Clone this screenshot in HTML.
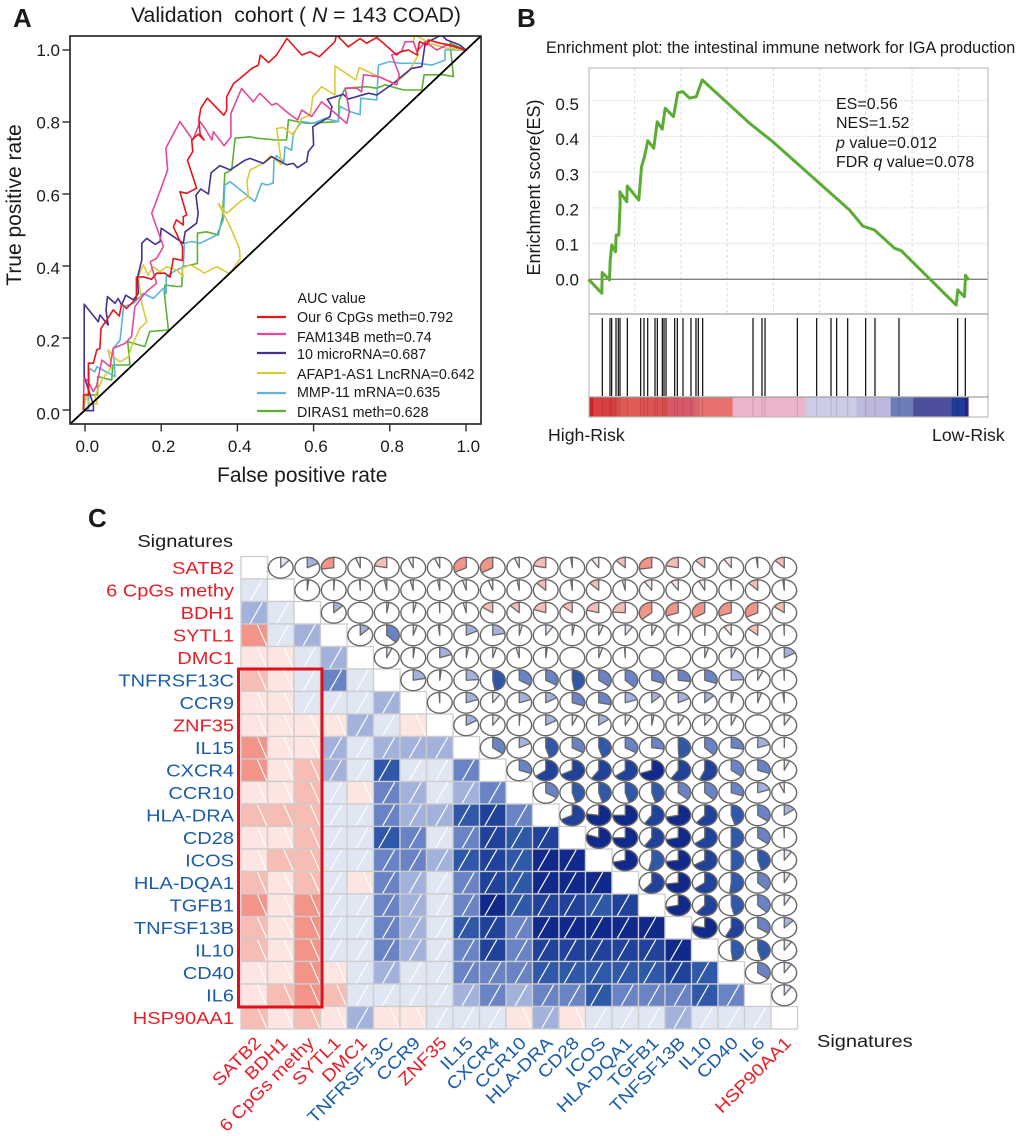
<!DOCTYPE html>
<html lang="en">
<head>
<meta charset="utf-8">
<title>Validation cohort figure</title>
<style>
html,body{margin:0;padding:0;background:#fff;}
svg{display:block;font-family:"Liberation Sans",sans-serif;}
text{fill:#1a1a1a;}
</style>
</head>
<body>
<svg id="fig" xmlns="http://www.w3.org/2000/svg" width="1020" height="1136" viewBox="0 0 1020 1136">
  <defs><clipPath id="rocClip"><rect x="70" y="36" width="411" height="388"/></clipPath></defs>
  <rect x="0" y="0" width="1020" height="1136" fill="#fff"/>

  <text x="13" y="27" font-size="26" font-weight="bold" fill="#000">A</text>
  <text x="131" y="22" font-size="21.2" xml:space="preserve">Validation  cohort ( <tspan font-style="italic">N</tspan> = 143 COAD)</text>
  <g id="rocPlot"></g>
  <text x="217" y="482" font-size="21">False positive rate</text>
  <text transform="translate(21,205) rotate(-90)" text-anchor="middle" font-size="21">True positive rate</text>
  <g id="rocLegend"></g>

  <text x="517" y="27" font-size="26" font-weight="bold" fill="#000">B</text>
  <text x="546" y="53" font-size="16.15">Enrichment plot: the intestinal immune network for IGA production</text>
  <g id="gseaPlot"></g>
  <text transform="translate(540,187.5) rotate(-90)" text-anchor="middle" font-size="18">Enrichment score(ES)</text>
  <text x="836" y="109" font-size="16">ES=0.56</text>
  <text x="836" y="128" font-size="16">NES=1.52</text>
  <text x="836" y="148" font-size="16"><tspan font-style="italic">p</tspan> value=0.012</text>
  <text x="836" y="167" font-size="16">FDR <tspan font-style="italic">q</tspan> value=0.078</text>
  <text x="548" y="441" font-size="17.7">High-Risk</text>
  <text x="932" y="441" font-size="17.7">Low-Risk</text>

  <text x="88" y="527" font-size="26" font-weight="bold" fill="#000">C</text>
  <text transform="translate(233,547) scale(1.15,1)" text-anchor="end" font-size="17.4">Signatures</text>
  <text transform="translate(817,1047) scale(1.15,1)" font-size="17.4">Signatures</text>
  <g id="corrPlot"></g>
  <rect x="238.5" y="669" width="83.5" height="338" fill="none" stroke="#e10f1a" stroke-width="3"/>
</svg>

<script>
/* ===== Panel A: ROC data, [false positive rate, true positive rate] ===== */
const legendLabels = ["Our 6 CpGs meth=0.792","FAM134B meth=0.74","10 microRNA=0.687","AFAP1-AS1 LncRNA=0.642","MMP-11 mRNA=0.635","DIRAS1 meth=0.628"];
const rocTicks = [0,0.2,0.4,0.6,0.8,1];
const rocTickLabels = ["0.0","0.2","0.4","0.6","0.8","1.0"];
const rocCpGs = [[-.004,0],[-.003,.042],[.009,.042],[.009,.13],[.022,.13],[.031,.167],[.039,.171],[.042,.227],[.057,.25],[.074,.278],[.09,.261],[.096,.294],[.109,.282],[.135,.31],[.135,.369],[.153,.37],[.175,.363],[.188,.38],[.21,.38],[.223,.369],[.232,.421],[.256,.415],[.256,.454],[.232,.509],[.24,.528],[.258,.514],[.258,.537],[.267,.542],[.249,.606],[.267,.602],[.293,.616],[.269,.694],[.283,.718],[.28,.75],[.297,.766],[.312,.75],[.302,.766],[.299,.806],[.304,.838],[.321,.866],[.364,.819],[.372,.833],[.372,.87],[.39,.907],[.407,.921],[.438,.949],[.455,.958],[.46,.986],[.482,.965],[.503,.986],[.53,1.032],[.569,.986],[.591,.995],[.615,.981],[.656,1.023],[.66,1.042],[.691,1.009],[.722,1.032],[.739,1.019],[.766,1.035],[.818,.986],[.827,.995],[.849,1],[.871,.986],[.878,1.023],[.897,1.014],[.901,1.028],[.932,1.019],[.958,1.014],[.984,1.005],[1,.998]];
const rocFam134b = [[-.004,0],[-.003,.088],[.006,.083],[.022,.051],[.031,.069],[.044,.139],[.066,.12],[.074,.171],[.105,.185],[.122,.204],[.131,.287],[.153,.319],[.166,.333],[.188,.352],[.171,.412],[.188,.421],[.206,.454],[.175,.546],[.201,.62],[.217,.667],[.212,.727],[.249,.801],[.283,.75],[.302,.801],[.315,.782],[.333,.75],[.337,.773],[.365,.734],[.383,.759],[.383,.824],[.411,.893],[.442,.856],[.459,.88],[.49,.847],[.503,.852],[.534,.824],[.558,.806],[.569,.833],[.595,.815],[.621,.856],[.652,.829],[.687,.796],[.694,.829],[.683,.894],[.713,.894],[.726,.884],[.731,.931],[.77,.926],[.818,.903],[.825,.931],[.805,.986],[.831,.995],[.84,1.023],[.862,1.023],[.871,.995],[.893,1.023],[.923,1],[.949,1.014],[1,1]];
const rocMicroRna = [[-.004,-.002],[.022,-.002],[.022,.014],[-.002,.093],[-.002,.294],[.035,.245],[.039,.264],[.061,.236],[.055,.278],[.059,.315],[.079,.296],[.087,.31],[.096,.292],[.107,.319],[.127,.306],[.14,.324],[.138,.37],[.149,.417],[.149,.463],[.162,.477],[.184,.46],[.197,.468],[.2,.505],[.258,.463],[.263,.495],[.293,.519],[.297,.546],[.291,.597],[.304,.614],[.324,.6],[.331,.659],[.354,.679],[.381,.667],[.42,.694],[.433,.699],[.468,.685],[.49,.704],[.529,.681],[.547,.685],[.558,.673],[.582,.69],[.586,.718],[.6,.736],[.598,.787],[.643,.815],[.648,.843],[.636,.863],[.678,.877],[.691,.864],[.744,.88],[.766,.875],[.809,.907],[.857,.949],[.884,.954],[.893,1.019],[.936,1.042],[.949,1.028],[.984,1.014],[1,1]];
const rocLncRna = [[-.004,0],[.004,.046],[.009,.019],[.033,.017],[.026,.037],[.044,.083],[.07,.12],[.061,.167],[.079,.144],[.092,.134],[.114,.148],[.122,.176],[.144,.227],[.162,.245],[.149,.296],[.14,.37],[.153,.403],[.166,.375],[.179,.398],[.197,.384],[.214,.398],[.241,.389],[.258,.37],[.254,.394],[.276,.403],[.302,.389],[.312,.38],[.346,.398],[.38,.378],[.407,.42],[.405,.45],[.381,.509],[.35,.574],[.372,.546],[.407,.579],[.429,.593],[.425,.634],[.433,.667],[.468,.685],[.486,.706],[.516,.681],[.505,.769],[.503,.782],[.521,.785],[.547,.764],[.569,.81],[.591,.819],[.598,.87],[.621,.898],[.656,.875],[.656,.956],[.711,.917],[.72,.951],[.761,.931],[.813,.907],[.849,.94],[.875,.986],[.862,1.023],[.866,1.042],[.905,1.019],[.949,1.005],[1,1]];
const rocMrna = [[-.004,0],[.009,-.002],[.011,.116],[.026,.106],[.031,.12],[.079,.093],[.074,.171],[.092,.194],[.101,.287],[.127,.296],[.153,.324],[.179,.31],[.206,.338],[.213,.324],[.213,.37],[.232,.384],[.258,.398],[.261,.463],[.28,.468],[.302,.463],[.319,.472],[.346,.486],[.363,.528],[.367,.625],[.381,.634],[.446,.579],[.464,.63],[.477,.625],[.494,.63],[.496,.694],[.503,.706],[.522,.69],[.525,.731],[.542,.722],[.547,.769],[.569,.801],[.6,.796],[.63,.81],[.665,.801],[.669,.843],[.696,.829],[.722,.82],[.724,.866],[.766,.861],[.77,.958],[.801,.968],[.827,.963],[.875,.963],[.91,.958],[.945,.972],[.945,1],[1,1]];
const rocDiras1 = [[-.004,0],[-.004,.042],[.009,.042],[.033,.042],[.033,.093],[.07,.083],[.073,.125],[.118,.125],[.112,.19],[.157,.176],[.17,.218],[.219,.222],[.208,.329],[.21,.347],[.241,.343],[.254,.343],[.256,.398],[.295,.407],[.295,.491],[.319,.495],[.35,.486],[.361,.537],[.367,.657],[.385,.667],[.394,.755],[.433,.759],[.451,.755],[.503,.75],[.529,.75],[.534,.806],[.582,.796],[.617,.798],[.665,.801],[.667,.861],[.683,.894],[.74,.898],[.766,.894],[.788,.903],[.836,.889],[.884,.889],[.89,.931],[.941,.931],[.967,.926],[.958,1.019],[1,1]];

/* ===== Panel B: GSEA data ===== */
const esTicks = [0,0.1,0.2,0.3,0.4,0.5];
const esTickLabels = ["0.0","0.1","0.2","0.3","0.4","0.5"];
const rankTicks = [2000,4000,6000,8000,10000,12000,14000,16000];
const esRanks = [0,577,591,908,937,1009,1168,1197,1312,1370,1355,1658,1673,2177,2293,2423,2567,2826,2970,3187,3317,3677,3865,4081,4369,4658,4917,6965,7974,11291,11868,12372,13238,13526,15905,15977,16265,16308,16453];
const esValues = [0,-.039,.019,-.002,.052,.096,.077,.124,.124,.217,.245,.217,.261,.222,.315,.343,.388,.367,.441,.42,.479,.455,.522,.525,.507,.511,.558,.437,.385,.194,.149,.138,.087,.08,-.072,-.03,-.049,.011,-.002];
const hitRanks = [598,930,1002,1190,1290,1363,1680,2257,2401,2560,2877,2978,3194,3266,3353,3728,3843,4088,4434,4650,4751,4939,7117,7506,7636,9035,9871,10491,10736,11212,11990,12394,13432,15970,16302];
const heatEnds = [209,1218,2228,3454,4607,6236,9408,11600,13071,14051,15709,16286,16430];
const heatColors = ["#c8232c","#d9403f","#e05a56","#dd5252","#d9596c","#e5706e","#ebb3cc","#ccccE5","#bdb8dd","#6d7cb8","#4d4d9e","#1f3b95","#35207f"];

/* ===== Panel C: correlogram data ===== */
const rowLabels = ["SATB2","6 CpGs methy","BDH1","SYTL1","DMC1","TNFRSF13C","CCR9","ZNF35","IL15","CXCR4","CCR10","HLA-DRA","CD28","ICOS","HLA-DQA1","TGFB1","TNFSF13B","IL10","CD40","IL6","HSP90AA1"];
const colLabels = ["SATB2","BDH1","6 CpGs methy","SYTL1","DMC1","TNFRSF13C","CCR9","ZNF35","IL15","CXCR4","CCR10","HLA-DRA","CD28","ICOS","HLA-DQA1","TGFB1","TNFSF13B","IL10","CD40","IL6","HSP90AA1"];
const redSignatures = ["SATB2","6 CpGs methy","BDH1","SYTL1","DMC1","ZNF35","HSP90AA1"];
const corrRow00 = [.12,.18,-.27,-.06,-.22,-.07,-.07,-.32,-.33,-.06,-.22,-.02,-.1,-.13,-.27,-.22,-.13,-.1,-.02,-.13];
const corrRow01 = [.02,.01,-.01,-.03,-.04,-.03,-.05,-.06,-.03,-.13,-.02,-.13,-.04,-.1,-.1,-.08,-.01,-.13,-.02];
const corrRow02 = [.13,.001,.03,.04,-.005,-.04,-.16,-.13,-.2,-.14,-.21,-.24,-.36,-.3,-.33,-.3,-.32,-.15];
const corrRow03 = [.13,.37,.05,-.02,.18,.22,.04,.1,.03,.06,.1,.07,.01,.005,-.1,-.14,-.005];
const corrRow04 = [.07,.02,.2,.03,.05,-.04,.02,.001,.05,-.01,.002,.002,.05,.07,.01,.17];
const corrRow05 = [.22,.02,.24,.47,.33,.33,.47,.35,.37,.3,.27,.3,.24,.07,-.005];
const corrRow06 = [-.01,.2,.1,.2,.17,.3,.28,.2,.13,.18,.13,.03,.05,-.02];
const corrRow07 = [.17,.1,.01,.17,.07,.15,.08,.03,.08,.1,.07,.001,.09];
const corrRow08 = [.35,.18,.45,.33,.45,.33,.27,.49,.37,.27,.2,.005];
const corrRow09 = [.3,.65,.68,.6,.65,.7,.6,.57,.35,.3,.07];
const corrRow10 = [.33,.45,.45,.45,.45,.36,.37,.3,.2,-.07];
const corrRow11 = [.68,.77,.75,.6,.72,.62,.45,.35,.15];
const corrRow12 = [.8,.75,.6,.72,.65,.5,.35,-.005];
const corrRow13 = [.72,.54,.73,.67,.5,.45,.1];
const corrRow14 = [.62,.73,.65,.52,.37,.08];
const corrRow15 = [.72,.62,.46,.37,.09];
const corrRow16 = [.78,.58,.34,.13];
const corrRow17 = [.48,.45,.1];
const corrRow18 = [.35,.1];
const corrRow19 = [.1];
const corrRows = [corrRow00,corrRow01,corrRow02,corrRow03,corrRow04,corrRow05,corrRow06,corrRow07,corrRow08,corrRow09,corrRow10,corrRow11,corrRow12,corrRow13,corrRow14,corrRow15,corrRow16,corrRow17,corrRow18,corrRow19];

const NS = "http://www.w3.org/2000/svg";
function mk(parent, tag, attrs, txt) {
  const el = document.createElementNS(NS, tag);
  for (const k in attrs) el.setAttribute(k, attrs[k]);
  if (txt !== undefined) el.textContent = txt;
  parent.appendChild(el);
  return el;
}

/* ---------- Panel A ---------- */
const xA = v => 85 + 381 * v;
const yA = v => 410 - 360 * v;
(function drawRoc() {
  const g = document.getElementById("rocPlot");
  const rocSeries = [rocDiras1, rocMrna, rocLncRna, rocMicroRna, rocFam134b, rocCpGs];
  const rocKeys = ["diras1", "mmp11", "afap1-as1", "microrna", "fam134b", "cpgs"];
  const rocColors = ["#5ab030", "#5ab5dc", "#dcc93a", "#47308f", "#e4489a", "#e8141c"];
  const clip = mk(g, "g", {"clip-path": "url(#rocClip)"});
  
  
  rocSeries.forEach((pts, i) => {
    const line = mk(clip, "polyline", {points: pts.map(p => xA(p[0]).toFixed(1) + "," + yA(p[1]).toFixed(1)).join(" "), fill: "none", stroke: rocColors[i], "stroke-width": 1.6, "stroke-linejoin": "round"});
    
    
  });
  const diag = mk(clip, "line", {x1: xA(-.04), y1: yA(-.04), x2: xA(1.04), y2: yA(1.04), stroke: "#000", "stroke-width": 1.8});
  
  
  const box = mk(g, "rect", {x: 70, y: 36, width: 411, height: 388, fill: "none", stroke: "#2a2a2a", "stroke-width": 1.7});
  
  
  rocTicks.forEach((v, i) => {
    const tx = mk(g, "line", {x1: xA(v), x2: xA(v), y1: 424, y2: 431.5, stroke: "#2a2a2a", "stroke-width": 1.4});
    
    
    const ty = mk(g, "line", {x1: 62.5, x2: 70, y1: yA(v), y2: yA(v), stroke: "#2a2a2a", "stroke-width": 1.4});
    
    
    const lx = mk(g, "text", {x: xA(v) + 2.3, y: 452, "text-anchor": "middle", "font-size": 17}, rocTickLabels[i]);
    
    
    const ly = mk(g, "text", {x: 60, y: yA(v) + 6 + (1 - v) * 3.3, "text-anchor": "end", "font-size": 17}, rocTickLabels[i]);
    
    
  });
  const lg = document.getElementById("rocLegend");
  const head = mk(lg, "text", {x: 297.5, y: 303, "font-size": 14.3}, "AUC value");
  
  
  const swatchColors = ["#e8141c", "#e4489a", "#47308f", "#dcc93a", "#5ab5dc", "#5ab030"];
  const swatchY = [317, 334, 353, 373, 393, 411];
  const labelY = [322, 342, 359, 379, 397, 417];
  legendLabels.forEach((t, i) => {
    const s = mk(lg, "line", {x1: 257, x2: 286, y1: swatchY[i], y2: swatchY[i], stroke: swatchColors[i], "stroke-width": 2.2});
    
    
    const l = mk(lg, "text", {x: 297, y: labelY[i], "font-size": 14.3}, t);
    
    
  });
})();

/* ---------- Panel B ---------- */
const xB = r => 588.5 + r * 46.23 / 2000;
const yB = v => 279.3 - v * 357.3;
(function drawGsea() {
  const g = document.getElementById("gseaPlot");
  esTicks.forEach(v => {
    const gl = mk(g, "line", {x1: 589, x2: 988, y1: yB(v), y2: yB(v), stroke: "#d6d6d6", "stroke-width": 1, "stroke-dasharray": "1.5,1.5"});
    
    
  });
  rankTicks.forEach(r => {
    const gl = mk(g, "line", {x1: xB(r), x2: xB(r), y1: 68, y2: 314, stroke: "#dcdcdc", "stroke-width": 1, "stroke-dasharray": "3,2.5"});
    
    
  });
  const zero = mk(g, "line", {x1: 589, x2: 988, y1: yB(0), y2: yB(0), stroke: "#808080", "stroke-width": 1.4});
  
  
  heatEnds.forEach((end, i) => {
    const start = i ? heatEnds[i - 1] : 0;
    const seg = mk(g, "rect", {x: xB(start), y: 397, width: xB(end) - xB(start) + .3, height: 20, fill: heatColors[i]});
    
    
  });
  hitRanks.forEach(r => {
    const hit = mk(g, "line", {x1: xB(r), x2: xB(r), y1: 318, y2: 396, stroke: "#111", "stroke-width": 1.25});
    
    
    const shade = mk(g, "line", {x1: xB(r), x2: xB(r), y1: 397, y2: 417, stroke: "#000", "stroke-width": 1, opacity: .13});
    
    
  });
  const box = mk(g, "rect", {x: 589, y: 68, width: 399, height: 349, fill: "none", stroke: "#bdbdb4", "stroke-width": 1.2});
  
  
  [314, 397].forEach(y => {
    const d = mk(g, "line", {x1: 589, x2: 988, y1: y, y2: y, stroke: "#a0a0a0", "stroke-width": 1.3});
    
    
  });
  const curve = mk(g, "polyline", {points: esRanks.map((r, i) => xB(r).toFixed(1) + "," + yB(esValues[i]).toFixed(1)).join(" "), fill: "none", stroke: "#5aac32", "stroke-width": 3, "stroke-linejoin": "round"});
  
  
  esTicks.forEach((v, i) => {
    const l = mk(g, "text", {x: 579, y: yB(v * .98) + 6, "text-anchor": "end", "font-size": 17}, esTickLabels[i]);
    
    
  });
})();

/* ---------- Panel C ---------- */
function corrColor(r) {
  const a = Math.abs(r);
  if (r < 0) {
    if (a < .125) return "#fde6e2";
    if (a < .25) return "#f7bdb5";
    return "#f29488";
  }
  if (a < .125) return "#e1e6f4";
  if (a < .25) return "#a3b2dc";
  if (a < .375) return "#6a83c4";
  if (a < .555) return "#3058a8";
  if (a < .7) return "#20429a";
  return "#10298a";
}
(function drawCorr() {
  const g = document.getElementById("corrPlot");
  const left = 241, top = 556.5, cw = 26.5, ch = 22.5, n = rowLabels.length;
  const xC = j => left + j * cw;
  const yC = i => top + i * ch;
  const rx = 12.4, ry = 10.4;
  const isRed = t => redSignatures.indexOf(t) >= 0;

  /* lower triangle shaded cells + diagonal */
  for (let i = 0; i < n; i++) {
    for (let j = 0; j <= i; j++) {
      const r = i === j ? null : corrRows[j][i - j - 1];
      const cell = mk(g, "rect", {x: xC(j), y: yC(i), width: cw, height: ch, fill: r === null ? "#fff" : corrColor(r), stroke: "#cdcdcd", "stroke-width": 1.3});
      
      
      if (r !== null) {
        const dark = Math.abs(r) >= .375;
        const b = r > 0 ? (dark ? .2 : .35) : .97;
        const t = r > 0 ? (dark ? .65 : .8) : .62;
        const hatch = mk(g, "line", {x1: xC(j) + b * cw, y1: yC(i) + ch - .8, x2: xC(j) + t * cw, y2: yC(i) + .8, stroke: "#fff", "stroke-width": 1.15});
        
        
      }
    }
  }

  /* upper triangle pies */
  corrRows.forEach((vals, i) => {
    vals.forEach((r, k) => {
      const j = i + k + 1;
      const cx = xC(j) + cw / 2, cy = yC(i) + ch / 2;
      const ring = mk(g, "ellipse", {cx: cx, cy: cy, rx: rx, ry: ry, fill: "#fff", stroke: "#676767", "stroke-width": 1.4});
      
      
      if (Math.abs(r) > .003) {
        const ang = 2 * Math.PI * r;
        const ex = cx + rx * Math.sin(ang), ey = cy - ry * Math.cos(ang);
        const large = Math.abs(r) > .5 ? 1 : 0;
        const sweep = r > 0 ? 1 : 0;
        const d = "M" + cx + " " + cy + "L" + cx + " " + (cy - ry) + "A" + rx + " " + ry + " 0 " + large + " " + sweep + " " + ex.toFixed(2) + " " + ey.toFixed(2) + "Z";
        const wedge = mk(g, "path", {d: d, fill: corrColor(r), stroke: "#676767", "stroke-width": 1.3, "stroke-linejoin": "round"});
        
        
      }
    });
  });

  /* labels */
  rowLabels.forEach((t, i) => {
    const l = mk(g, "text", {transform: "translate(234," + (yC(i) + ch / 2 + 6.2) + ") scale(1.15,1)", "text-anchor": "end", "font-size": 17.4, style: "fill:" + (isRed(t) ? "#e61e28" : "#1b5cab")}, t);
    
    
  });
  colLabels.forEach((t, j) => {
    const x = xC(j) + cw / 2 + 8, y = 1044;
    const l = mk(g, "text", {transform: "translate(" + x + "," + y + ") rotate(-45) scale(1.13,1)", "text-anchor": "end", "font-size": 17.4, style: "fill:" + (isRed(t) ? "#e61e28" : "#1b5cab")}, t);
    
    
  });
})();
</script>
</body>
</html>
